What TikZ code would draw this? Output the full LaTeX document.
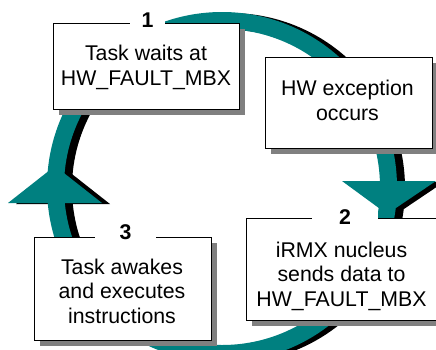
\documentclass[tikz,border=0pt]{standalone}
\usepackage{fontspec}
\setmainfont{Liberation Sans}
\usetikzlibrary{shadows}
\definecolor{ringteal}{RGB}{0,128,128}
\definecolor{shadowgray}{RGB}{128,128,128}
\begin{document}
\begin{tikzpicture}[x=1pt,y=-1pt,
  boxshape/.style={draw=black, line width=0.9pt, fill=white, inner sep=0pt,
    drop shadow={shadow xshift=6pt, shadow yshift=-6pt, fill=shadowgray, opacity=1}},
  bodytext/.style={font=\fontsize{21.3}{24.3}\selectfont, align=center, inner sep=0pt, anchor=base},
  numlabel/.style={font=\fontsize{21.3}{24}\selectfont\bfseries, fill=white, inner sep=0pt, minimum height=17pt},
]
\useasboundingbox (0,0) rectangle (436,349);
% ring shadow
\begin{scope}[shift={(8,1)}]
  \fill[black, even odd rule] (222,187) circle[radius=175] (222,187) circle[radius=158];
  \fill[black] (342,181) -- (436,181) -- (387,214) -- cycle;
  \fill[black] (8,203) -- (102,203) -- (55,166) -- cycle;
\end{scope}
% ring
\fill[ringteal, even odd rule] (222,187) circle[radius=175] (222,187) circle[radius=158];
\fill[ringteal] (342,181) -- (436,181) -- (387,214) -- cycle;
\fill[ringteal] (8,203) -- (102,203) -- (55,166) -- cycle;
% boxes
\node[boxshape, minimum width=186, minimum height=86] (b1) at (146,66) {};
\node[boxshape, minimum width=167, minimum height=91] (b2) at (348.5,102.5) {};
\node[boxshape, minimum width=194, minimum height=102] (b3) at (343,269) {};
\node[boxshape, minimum width=177, minimum height=103] (b4) at (122.5,288.5) {};
% number labels
\node[numlabel, minimum width=35] (n1) at (147.5,20) {1};
\node[numlabel, minimum width=66] (n2) at (345,217.5) {2};
\node[numlabel, minimum width=61] (n3) at (125.5,232) {3};
% texts
\node[bodytext] (t1) at (146,85) {Task waits at\\HW\_FAULT\_MBX};
\node[bodytext] (t2) at (347.5,120) {HW exception\\occurs};
\node[bodytext] (t3) at (341.5,306) {iRMX nucleus\\sends data to\\HW\_FAULT\_MBX};
\node[bodytext] (t4) at (122,323) {Task awakes\\and executes\\instructions};
\end{tikzpicture}
\end{document}
